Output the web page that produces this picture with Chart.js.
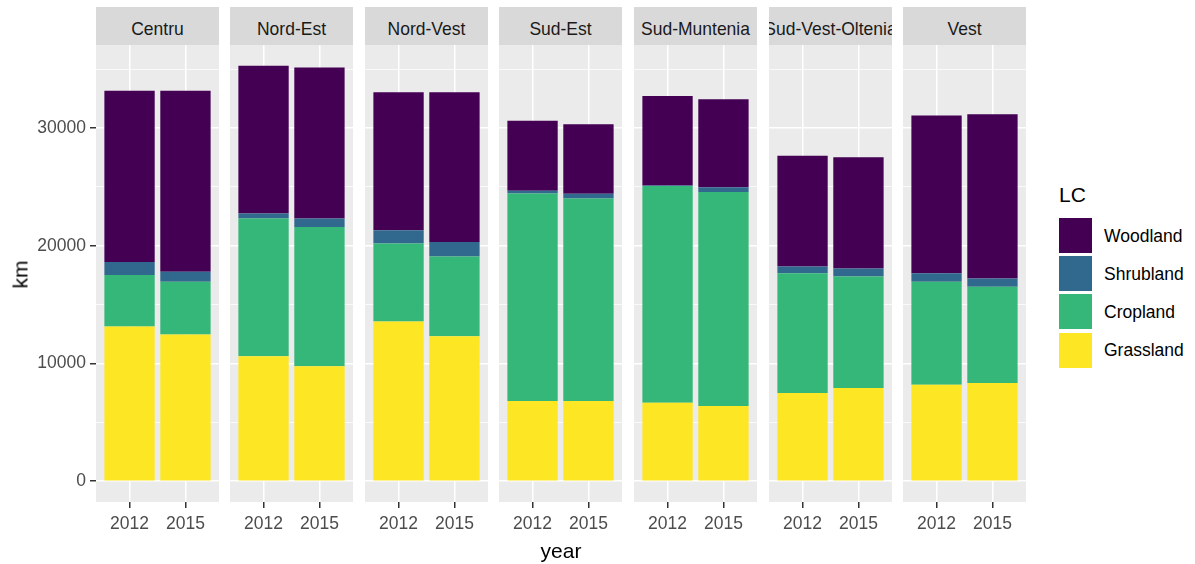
<!DOCTYPE html>
<html>
<head>
<meta charset="utf-8">
<script src="https://cdn.jsdelivr.net/npm/chart.js@4.4.1/dist/chart.umd.min.js"></script>
<style>
  body { margin: 0; background: #fff; font-family: "Liberation Sans", Arial, sans-serif; }
  #wrap { position: relative; width: 1195px; height: 564px; overflow: hidden; }
  canvas { position: absolute; }
  .strip { position: absolute; top: 7px; height: 38px; background: #D9D9D9; color: #1A1A1A;
           font-size: 17.5px; display: flex; align-items: center; justify-content: center;
           overflow: hidden; white-space: nowrap; box-sizing: border-box; padding-top: 5px; }
  .strip span { display: inline-block; transform: scaleY(1.1); }
  .lab { position: absolute; color: #000; white-space: nowrap; }
  .key { position: absolute; left: 1059px; width: 33px; height: 35px; }
  .klab { position: absolute; left: 1104px; font-size: 17.5px; color: #000; line-height: 20px; }
</style>
</head>
<body>
<div id="wrap"></div>
<script>
// values in km, [2012, 2015] for each region
const regions = ['Centru', 'Nord-Est', 'Nord-Vest', 'Sud-Est', 'Sud-Muntenia', 'Sud-Vest-Oltenia', 'Vest']
const years = ['2012', '2015']
const grassland = [[13140, 12460], [10610, 9760], [13570, 12320], [6810, 6810], [6670, 6390], [7500, 7920], [8200, 8340]]
const cropland = [[4370, 4490], [11710, 11840], [6620, 6760], [17640, 17210], [18400, 18170], [10160, 9460], [8750, 8180]]
const shrubland = [[1110, 850], [420, 720], [1130, 1240], [220, 390], [60, 420], [570, 680], [710, 710]]
const woodland = [[14540, 15360], [12550, 12830], [11730, 12730], [5960, 5910], [7600, 7470], [9420, 9450], [13400, 13950]]
const yTicks = [0, 5000, 10000, 15000, 20000, 25000, 30000, 35000]

const layers = [
    { name: 'Grassland', values: grassland, color: '#FDE725' },
    { name: 'Cropland', values: cropland, color: '#35B779' },
    { name: 'Shrubland', values: shrubland, color: '#31688E' },
    { name: 'Woodland', values: woodland, color: '#440154' }
]

const wrap = document.getElementById('wrap')
const panelLefts = [96, 230, 365, 499, 634, 769, 903]
const panelW = 123
const yAxisW = 96
const canvasTop = 45
const canvasH = 500
const xAxisH = 43
const font = { family: '"Liberation Sans", Arial, sans-serif', size: 17.5 }

// grey panel background
const panelBg = {
    id: 'panelBg',
    beforeDraw(chart) {
        const a = chart.chartArea
        chart.ctx.save()
        chart.ctx.fillStyle = '#EBEBEB'
        chart.ctx.fillRect(a.left, a.top, a.right - a.left, a.bottom - a.top)
        chart.ctx.restore()
    }
}

regions.forEach((region, i) => {
    const first = i === 0
    const left = first ? 0 : panelLefts[i]
    const width = first ? yAxisW + panelW : panelW

    // strip label
    const strip = document.createElement('div')
    strip.className = 'strip'
    strip.style.left = panelLefts[i] + 'px'
    strip.style.width = panelW + 'px'
    strip.innerHTML = '<span>' + region + '</span>'
    wrap.appendChild(strip)

    const canvas = document.createElement('canvas')
    canvas.width = width
    canvas.height = canvasH
    canvas.style.left = left + 'px'
    canvas.style.top = canvasTop + 'px'
    wrap.appendChild(canvas)

    new Chart(canvas, {
        type: 'bar',
        plugins: [panelBg],
        data: {
            datasets: layers.map(l => ({
                label: l.name,
                data: years.map((y, j) => ({ x: j + 1, y: l.values[i][j] })),
                backgroundColor: l.color,
                borderWidth: 0,
                barPercentage: 0.9,
                categoryPercentage: 1
            }))
        },
        options: {
            responsive: false,
            animation: false,
            devicePixelRatio: 1,
            layout: { padding: 0 },
            plugins: { legend: { display: false }, tooltip: { enabled: false } },
            scales: {
                x: {
                    type: 'linear',
                    stacked: true,
                    offset: false,
                    min: 0.4,
                    max: 2.6,
                    afterBuildTicks: s => { s.ticks = [{ value: 1 }, { value: 2 }] },
                    afterFit: s => { s.height = xAxisH; s.paddingLeft = 0; s.paddingRight = 0 },
                    border: { display: false },
                    grid: { offset: false, color: '#FFFFFF', lineWidth: 1.5, tickColor: '#333333', tickLength: 6 },
                    ticks: {
                        font: font,
                        color: '#4D4D4D',
                        padding: 6,
                        maxRotation: 0,
                        autoSkip: false,
                        callback: v => years[v - 1]
                    }
                },
                y: {
                    stacked: true,
                    min: -1765,
                    max: 37055,
                    afterBuildTicks: s => { s.ticks = yTicks.map(v => ({ value: v })) },
                    afterFit: s => { s.width = first ? yAxisW : 0; s.paddingTop = 0; s.paddingBottom = 0 },
                    border: { display: false },
                    grid: {
                        color: '#FFFFFF',
                        lineWidth: c => (c.tick && c.tick.value % 10000 === 0) ? 1.5 : 0.75,
                        drawTicks: first,
                        tickLength: 6,
                        tickColor: c => (c.tick && c.tick.value % 10000 === 0) ? '#333333' : 'rgba(0,0,0,0)'
                    },
                    ticks: {
                        display: first,
                        font: font,
                        color: '#4D4D4D',
                        padding: 4,
                        callback: v => v % 10000 === 0 ? String(v) : ''
                    }
                }
            }
        }
    })
})

// axis titles
const xTitle = document.createElement('div')
xTitle.className = 'lab'
xTitle.style.cssText += 'left:531px;width:60px;text-align:center;top:540px;font-size:21px;line-height:21px;'
xTitle.textContent = 'year'
wrap.appendChild(xTitle)

const yTitle = document.createElement('div')
yTitle.className = 'lab'
yTitle.style.cssText += 'left:-10px;width:60px;text-align:center;top:264px;font-size:21px;line-height:21px;transform:rotate(-90deg);'
yTitle.textContent = 'km'
wrap.appendChild(yTitle)

// legend
const lt = document.createElement('div')
lt.className = 'lab'
lt.style.cssText += 'left:1059px;top:184px;font-size:21px;line-height:21px;'
lt.textContent = 'LC'
wrap.appendChild(lt)

layers.slice().reverse().forEach((l, k) => {
    const top = 218 + k * 38.2
    const key = document.createElement('div')
    key.className = 'key'
    key.style.top = top + 'px'
    key.style.background = l.color
    wrap.appendChild(key)
    const t = document.createElement('div')
    t.className = 'klab'
    t.style.top = (top + 7.5) + 'px'
    t.textContent = l.name
    wrap.appendChild(t)
})
</script>
</body>
</html>
